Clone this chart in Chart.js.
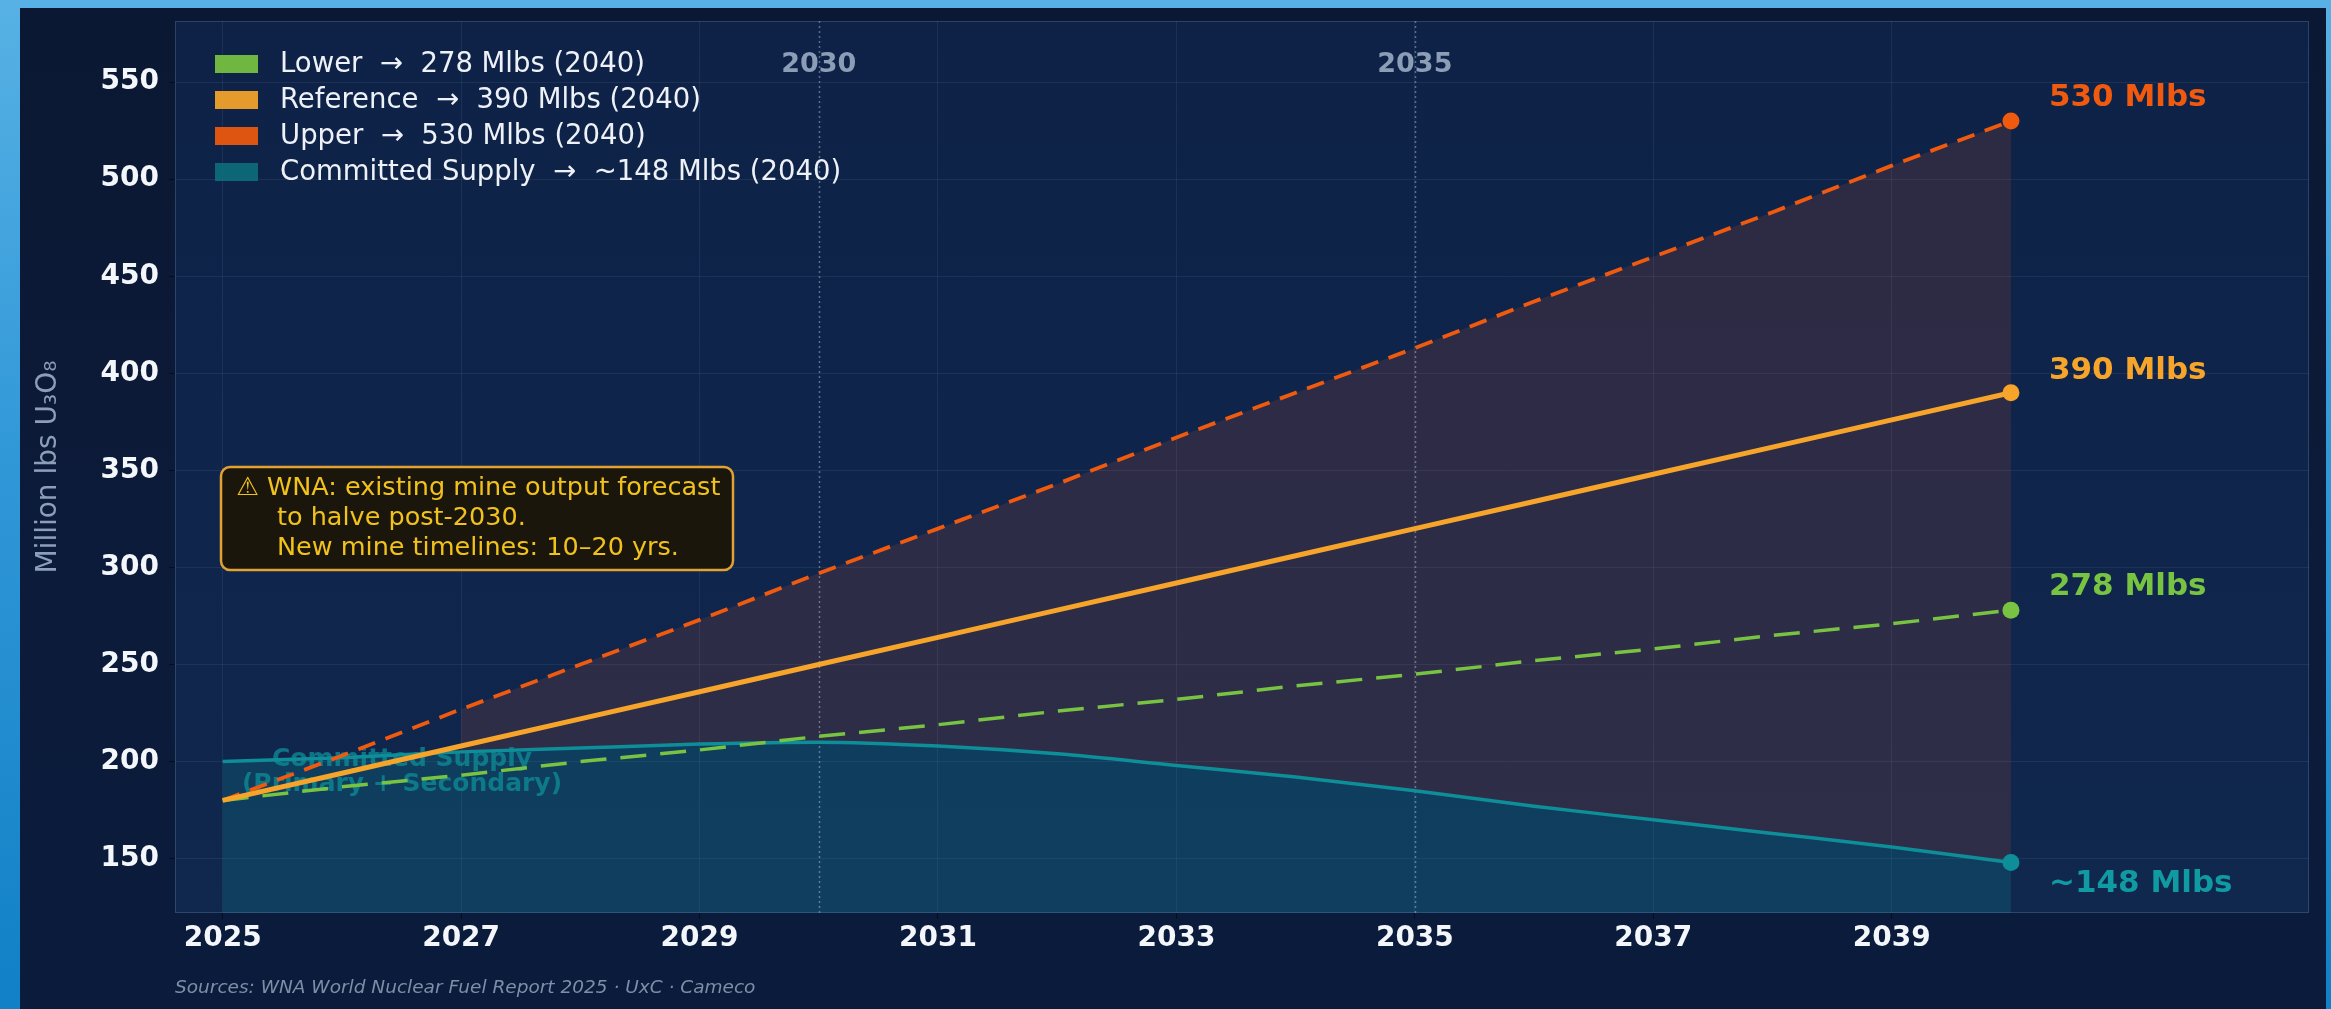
<!DOCTYPE html>
<html><head><meta charset="utf-8">
<script src="https://cdn.jsdelivr.net/npm/chart.js@4.4.1/dist/chart.umd.min.js"></script>
<style>
html,body{margin:0;padding:0;width:2331px;height:1009px;overflow:hidden;
  background:linear-gradient(180deg,#57b1e4 0%,#3198d8 45%,#1180c6 100%);}
#wrap{position:absolute;left:20px;top:8px;width:2306px;height:1001px;
  background:linear-gradient(180deg,#0b1833 0%,#0c1b3a 60%,#0b1b3b 100%);}
canvas{display:block}
</style></head><body>
<div id="wrap"><canvas id="c" width="2306" height="1001"></canvas></div>
<script>
// ---- data ----
const years = [2025,2026,2027,2028,2029,2030,2031,2032,2033,2034,2035,2036,2037,2038,2039,2040];
const lowerCase     = [180,187,193,200,206,213,219,226,232,239,245,252,258,265,271,278];
const referenceCase = [180,194,208,222,236,250,264,278,292,306,320,334,348,362,376,390];
const upperCase     = [180,203,227,250,273,297,320,343,367,390,413,437,460,483,507,530];
const committedSupply = [200,202,205,207,209,210,208,204,198,192,185,177,170,163,156,148];
const xTicks = [2025,2027,2029,2031,2033,2035,2037,2039];
const yTicks = [150,200,250,300,350,400,450,500,550];
const milestones = [2030, 2035];
const legendLabels = ['Lower  \u2192  278 Mlbs (2040)','Reference  \u2192  390 Mlbs (2040)','Upper  \u2192  530 Mlbs (2040)','Committed Supply  \u2192  ~148 Mlbs (2040)'];
const endLabels = ['278 Mlbs','390 Mlbs','530 Mlbs','~148 Mlbs'];
const noteLines = ['\u26A0 WNA: existing mine output forecast','to halve post-2030.','New mine timelines: 10\u201320 yrs.'];
const supplyNote = ['Committed Supply','(Primary + Secondary)'];
const yTitle = 'Million lbs U\u2083O\u2088';
const sourceText = 'Sources: WNA World Nuclear Fuel Report 2025 \u00B7 UxC \u00B7 Cameco';

// ---- styles ----
const C_LOWER = '#78c442', C_REF = '#f7a52a', C_UPPER = '#f05a0e', C_SUP = '#0e8e98';
const FONT = "'DejaVu Sans', sans-serif";
const pts = arr => years.map((x,i)=>({x:x, y:arr[i]}));
const endOnly = r => ctx => ctx.dataIndex === years.length-1 ? r : 0;
const gapTop = years.map((x,i)=>({x:x, y: upperCase[i] > committedSupply[i] + 5 ? upperCase[i] : null}));

const decor = {
  id:'decor',
  beforeDraw(chart){
    const a = chart.chartArea, c = chart.ctx;
    const g = c.createLinearGradient(0,a.top,0,a.bottom);
    g.addColorStop(0,'#0e2247'); g.addColorStop(1,'#10274e');
    c.save(); c.fillStyle = g; c.fillRect(a.left,a.top,a.right-a.left,a.bottom-a.top); c.restore();
  },
  beforeDatasetsDraw(chart){
    const a = chart.chartArea, c = chart.ctx, xs = chart.scales.x;
    c.save();
    c.strokeStyle = 'rgba(190,205,225,0.45)'; c.lineWidth = 1.5; c.setLineDash([2,3]);
    milestones.forEach(m=>{ const x = Math.round(xs.getPixelForValue(m))+0.5;
      c.beginPath(); c.moveTo(x,a.top); c.lineTo(x,a.bottom); c.stroke(); });
    c.setLineDash([]);
    c.fillStyle = 'rgba(14,142,152,0.75)'; c.font = 'bold 25px '+FONT;
    c.textAlign = 'center'; c.textBaseline = 'middle';
    c.fillText(supplyNote[0], 382, 751);
    c.fillText(supplyNote[1], 382, 776);
    c.restore();
  },
  afterDraw(chart){
    const a = chart.chartArea, c = chart.ctx, xs = chart.scales.x, ys = chart.scales.y;
    c.save();
    c.strokeStyle = 'rgba(120,150,190,0.28)'; c.lineWidth = 1;
    c.strokeRect(a.left+0.5,a.top+0.5,a.right-a.left-1,a.bottom-a.top-1);
    // milestone labels
    c.font = 'bold 27px '+FONT; c.fillStyle = '#8c9db6'; c.textAlign='center'; c.textBaseline='middle';
    milestones.forEach(m=> c.fillText(String(m), xs.getPixelForValue(m), a.top+44));
    // legend
    const cols = [C_LOWER, C_REF, C_UPPER, '#0d6c7a'];
    c.textAlign='left'; c.font = '27.5px '+FONT;
    legendLabels.forEach((t,i)=>{
      const cy = a.top + 43 + i*36;
      c.fillStyle = cols[i]; c.globalAlpha = 0.92; c.fillRect(a.left+40, cy-9, 43, 18); c.globalAlpha = 1;
      c.fillStyle = '#eef2f8'; c.fillText(t, a.left+105, cy+1);
    });
    // end labels
    c.font = 'bold 31px '+FONT;
    const ends = [[lowerCase,C_LOWER,-23],[referenceCase,C_REF,-22],[upperCase,C_UPPER,-23],[committedSupply,'#109aa2',21]];
    ends.forEach((e,i)=>{ const v = e[0][e[0].length-1];
      c.fillStyle = e[1]; c.fillText(endLabels[i], xs.getPixelForValue(years[years.length-1])+38, ys.getPixelForValue(v)+e[2]); });
    // annotation box
    const bx = a.left+46, by = a.top+446, bw = 512, bh = 103;
    c.beginPath(); c.roundRect(bx,by,bw,bh,9);
    c.fillStyle = 'rgba(28,21,8,0.93)'; c.fill();
    c.lineWidth = 2.5; c.strokeStyle = '#e2a233'; c.stroke();
    c.fillStyle = '#f2c21c'; c.font = '25.5px '+FONT; c.textBaseline='middle';
    c.fillText(noteLines[0], bx+15, by+21);
    c.fillText(noteLines[1], bx+56, by+51);
    c.fillText(noteLines[2], bx+56, by+81);
    // y title
    c.save(); c.translate(29,(a.top+a.bottom)/2); c.rotate(-Math.PI/2);
    c.textAlign='center'; c.fillStyle='#8c9fb8'; c.font='28px '+FONT; c.fillText(yTitle,0,0); c.restore();
    // sources
    c.textAlign='left'; c.fillStyle='#7d8ea8'; c.font='italic 18.5px '+FONT;
    c.fillText(sourceText, a.left, 980);
    c.restore();
  }
};

new Chart(document.getElementById('c'), {
  type:'line',
  data:{ datasets:[
    {label:'Committed Supply', data:pts(committedSupply), borderColor:C_SUP, borderWidth:3.5,
     cubicInterpolationMode:'monotone', fill:'start', backgroundColor:'rgba(14,140,152,0.24)',
     pointRadius:endOnly(8.5), pointBackgroundColor:C_SUP, pointBorderWidth:0, order:3},
    {label:'Lower', data:pts(lowerCase), borderColor:C_LOWER, borderWidth:3.5, borderDash:[26,14],
     fill:false, pointRadius:endOnly(8.5), pointBackgroundColor:C_LOWER, pointBorderWidth:0, order:2},
    {label:'Reference', data:pts(referenceCase), borderColor:C_REF, borderWidth:5,
     fill:false, pointRadius:endOnly(8.5), pointBackgroundColor:C_REF, pointBorderWidth:0, order:0},
    {label:'Upper', data:pts(upperCase), borderColor:C_UPPER, borderWidth:3.8, borderDash:[18,11],
     fill:false, pointRadius:endOnly(8.5), pointBackgroundColor:C_UPPER, pointBorderWidth:0, order:1},
    {label:'gap', data:gapTop, borderWidth:0, borderColor:'rgba(0,0,0,0)', pointRadius:0,
     spanGaps:false, fill:{target:0}, backgroundColor:'rgba(235,95,40,0.14)', order:4}
  ]},
  options:{
    responsive:false, devicePixelRatio:1, animation:false,
    layout:{padding:{left:0, top:13, right:17, bottom:0}},
    plugins:{legend:{display:false}, tooltip:{enabled:false}, filler:{drawTime:'beforeDatasetsDraw'}},
    scales:{
      x:{type:'linear', min:2024.6, max:2042.5,
        afterBuildTicks:s=>{ s.ticks = xTicks.map(v=>({value:v})); },
        afterFit:s=>{ s.height = 96; s.paddingLeft = 0; s.paddingRight = 0; },
        ticks:{color:'#f3f6fa', font:{family:FONT, size:28, weight:'bold'}, padding:3, maxRotation:0, autoSkip:false, callback:v=>String(v)},
        grid:{color:'rgba(150,175,215,0.10)', tickLength:6, tickColor:'rgba(0,0,0,0.5)'},
        border:{display:false}},
      y:{min:122, max:581.5,
        afterBuildTicks:s=>{ s.ticks = yTicks.map(v=>({value:v})); },
        afterFit:s=>{ s.width = 155; s.paddingTop = 0; s.paddingBottom = 0; },
        ticks:{color:'#f3f6fa', font:{family:FONT, size:28, weight:'bold'}, padding:10, autoSkip:false, callback:v=>String(v)},
        grid:{color:'rgba(150,175,215,0.10)', tickLength:6, tickColor:'rgba(0,0,0,0.5)'},
        border:{display:false}}
    }
  },
  plugins:[decor]
});
</script></body></html>
